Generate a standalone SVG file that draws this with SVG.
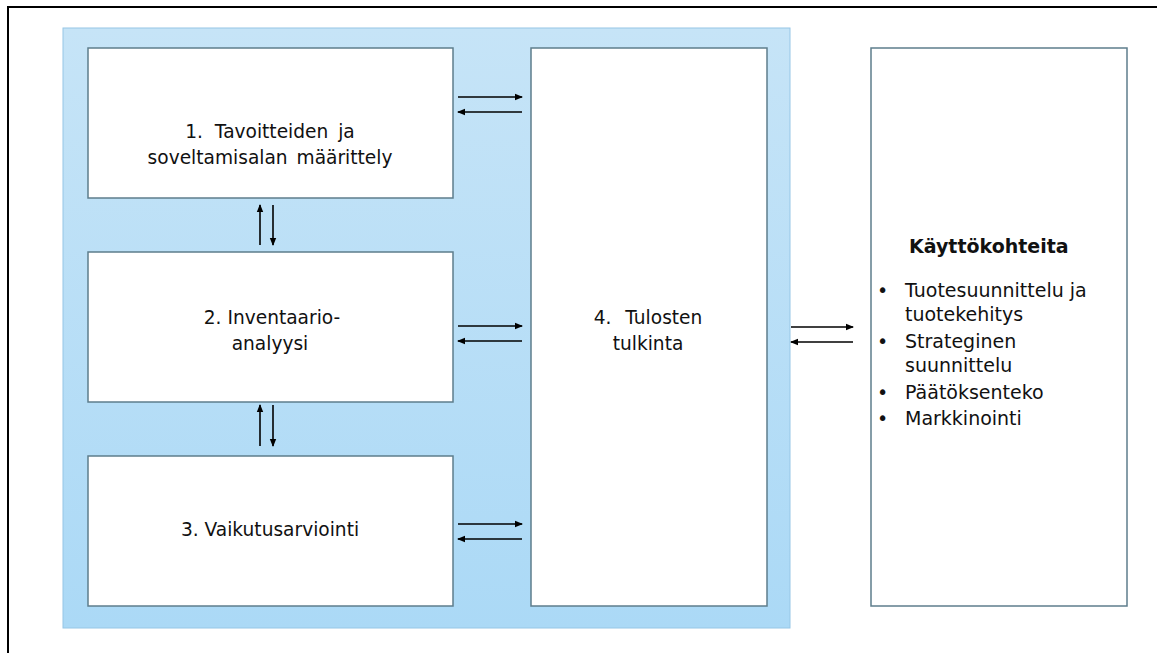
<svg xmlns="http://www.w3.org/2000/svg" width="1157" height="653" viewBox="0 0 1157 653">
<defs>
<linearGradient id="bg" x1="0" y1="0" x2="0" y2="1">
<stop offset="0" stop-color="#c6e4f7"/>
<stop offset="1" stop-color="#abd9f6"/>
</linearGradient>
<marker id="ah" markerWidth="8" markerHeight="8" refX="7" refY="4" orient="auto" markerUnits="userSpaceOnUse">
<path d="M0,0.8 L8,4 L0,7.2 Z" fill="#000"/>
</marker>
<style>
.box{fill:#fff;stroke:#5e7d8c;stroke-width:1.5}
.t{font-family:"DejaVu Sans",Verdana,sans-serif;font-size:18.6px;fill:#111;text-anchor:middle}
.l{font-family:"DejaVu Sans",Verdana,sans-serif;font-size:19px;fill:#111}
.ar{stroke:#000;stroke-width:1.6;fill:none;marker-end:url(#ah)}
</style>
</defs>
<rect x="0" y="0" width="1157" height="653" fill="#fff"/>
<rect x="8" y="7" width="1200" height="700" fill="none" stroke="#000" stroke-width="2"/>
<g id="panel">
<rect x="63" y="28" width="727" height="600" fill="url(#bg)" stroke="#96c6e6" stroke-width="1"/>
</g>
<g id="n1">
<rect class="box" x="88" y="48" width="365" height="150"/>
<text class="t" x="270" y="138">1.<tspan dx="6"> Tavoitteiden</tspan><tspan dx="4"> ja</tspan></text>
<text class="t" x="270" y="164">soveltamisalan<tspan dx="3"> määrittely</tspan></text>
</g>
<g id="n2">
<rect class="box" x="88" y="252" width="365" height="150"/>
<text class="t" x="272" y="324">2. Inventaario-</text>
<text class="t" x="270" y="350">analyysi</text>
</g>
<g id="n3">
<rect class="box" x="88" y="456" width="365" height="150"/>
<text class="t" x="270" y="536">3. Vaikutusarviointi</text>
</g>
<g id="n4">
<rect class="box" x="531" y="48" width="236" height="558"/>
<text class="t" x="648" y="324">4.<tspan dx="8"> Tulosten</tspan></text>
<text class="t" x="648" y="350">tulkinta</text>
</g>
<g id="n5">
<rect class="box" x="871" y="48" width="256" height="558"/>
<text class="l" x="909" y="253" font-weight="bold" font-size="20.5px">Käyttökohteita</text>
<text class="l" x="877" y="297">•</text>
<text class="l" x="905" y="297">Tuotesuunnittelu ja</text>
<text class="l" x="905" y="321">tuotekehitys</text>
<text class="l" x="877" y="348">•</text>
<text class="l" x="905" y="348">Strateginen</text>
<text class="l" x="905" y="372">suunnittelu</text>
<text class="l" x="877" y="399">•</text>
<text class="l" x="905" y="399">Päätöksenteko</text>
<text class="l" x="877" y="425">•</text>
<text class="l" x="905" y="425">Markkinointi</text>
</g>
<g id="connectors">
<line class="ar" x1="458" y1="97" x2="522" y2="97"/>
<line class="ar" x1="522" y1="112" x2="458" y2="112"/>
<line class="ar" x1="458" y1="326" x2="522" y2="326"/>
<line class="ar" x1="522" y1="341" x2="458" y2="341"/>
<line class="ar" x1="458" y1="524" x2="522" y2="524"/>
<line class="ar" x1="522" y1="539" x2="458" y2="539"/>
<line class="ar" x1="791" y1="327" x2="853" y2="327"/>
<line class="ar" x1="853" y1="342" x2="791" y2="342"/>
<line class="ar" x1="260" y1="245" x2="260" y2="205"/>
<line class="ar" x1="273" y1="205" x2="273" y2="245"/>
<line class="ar" x1="260" y1="446" x2="260" y2="405"/>
<line class="ar" x1="273" y1="405" x2="273" y2="446"/>
</g>
</svg>
